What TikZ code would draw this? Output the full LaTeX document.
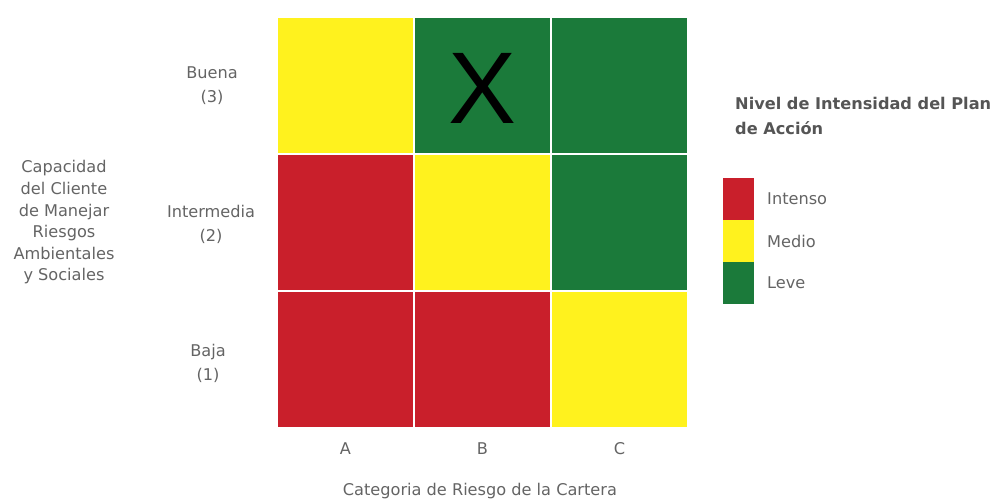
\documentclass[tikz,border=0pt]{standalone}
\usepackage{fontspec}
\setmainfont{DejaVu Sans}
\newfontfamily\markfont{Liberation Sans}
\usetikzlibrary{positioning}
\definecolor{riskred}{RGB}{201,31,43}
\definecolor{riskyellow}{RGB}{255,242,30}
\definecolor{riskgreen}{RGB}{27,122,58}
\definecolor{labelgray}{RGB}{100,100,100}
\def\cellsz{2.74cm}
\def\legwid{0.62cm}
\def\leghgt{0.84cm}

\begin{document}
\begin{tikzpicture}[
            x=0.02cm, y=-0.02cm,
            cell/.style={%
                rectangle, draw=white, line width=0.9pt,%
                minimum width=\cellsz, minimum height=\cellsz,%
                inner sep=0pt, outer sep=0pt%
            },
            legbox/.style={%
                rectangle, draw=none,%
                minimum width=\legwid, minimum height=\leghgt,%
                inner sep=0pt, outer sep=0pt%
            },
            axislabel/.style={%
                text=labelgray, align=center,%
                font=\fontsize{9.2}{14}\selectfont%
            },
            legtitle/.style={%
                text=labelgray!85!black, align=left, anchor=west,%
                font=\bfseries\fontsize{9.2}{14}\selectfont%
            }
        ]

        \useasboundingbox (0,0) rectangle (999,500);

        % Define nodes
        \node (a1) [cell, fill=riskred] at (345.5,359.5) {};
        \node (b1) [cell, fill=riskred, right=0pt of a1] {};
        \node (c1) [cell, fill=riskyellow, right=0pt of b1] {};
        \node (a2) [cell, fill=riskred, above=0pt of a1] {};
        \node (b2) [cell, fill=riskyellow, right=0pt of a2] {};
        \node (c2) [cell, fill=riskgreen, right=0pt of b2] {};
        \node (a3) [cell, fill=riskyellow, above=0pt of a2] {};
        \node (b3) [cell, fill=riskgreen, right=0pt of a3] {};
        \node (c3) [cell, fill=riskgreen, right=0pt of b3] {};

        \node (xmark) [font=\markfont\fontsize{58}{58}\selectfont]
            at ([yshift=-1.5pt]b3.center) {X};

        \node (buena) [axislabel] at (212,85.5) {Buena\\(3)};
        \node (intermedia) [axislabel] at (211,224.5) {Intermedia\\(2)};
        \node (baja) [axislabel] at (208,363.5) {Baja\\(1)};
        \node (capacidad) [axislabel, font=\fontsize{9.2}{12.3}\selectfont]
            at (64,222.5) {%
            Capacidad\\del Cliente\\de Manejar\\Riesgos\\Ambientales\\y Sociales
        };

        \node (colA) [axislabel, below=5pt of a1] {A};
        \node (colB) [axislabel, below=5pt of b1] {B};
        \node (colC) [axislabel, below=5pt of c1] {C};
        \node (categoria) [axislabel, below=9pt of colB] {%
            Categoria de Riesgo de la Cartera
        };

        \node (nivel) [legtitle] at (729,116) {%
            Nivel de Intensidad del Plan\\de Acción
        };
        \node (legred) [legbox, fill=riskred] at (738.5,199) {};
        \node (legyellow) [legbox, fill=riskyellow, below=0pt of legred] {};
        \node (leggreen) [legbox, fill=riskgreen, below=0pt of legyellow] {};
        \node (intenso) [axislabel, right=4pt of legred] {Intenso};
        \node (medio) [axislabel, right=4pt of legyellow] {Medio};
        \node (leve) [axislabel, right=4pt of leggreen] {Leve};

        \end{tikzpicture}
\end{document}
